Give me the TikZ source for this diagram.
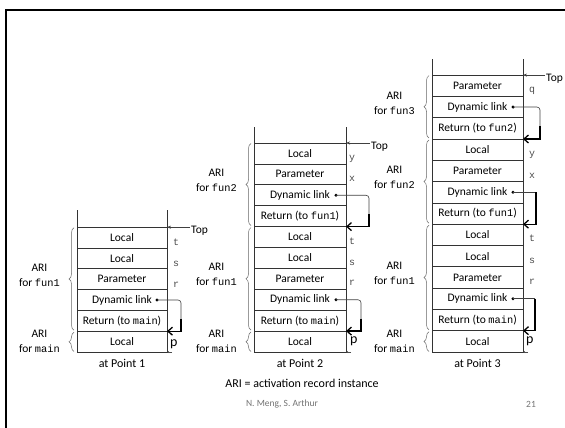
\documentclass[tikz,border=0pt]{standalone}
\usepackage{fontspec}
\setmainfont{Carlito}
\setmonofont{Liberation Mono}[Scale=0.9]
\usepackage{tikz}
\usetikzlibrary{positioning, arrows.meta, decorations.pathreplacing, calc}

\begin{document}
\begin{tikzpicture}[x=1pt, y=1pt,
  cell/.style={draw=black!80, line width=0.6pt, rectangle, inner sep=0pt, outer sep=0pt, font=\fontsize{11.5}{13}\selectfont},
  cellA/.style={cell, minimum width=90pt, minimum height=20.8pt},
  cellB/.style={cell, minimum width=92pt, minimum height=20.9pt},
  cellC/.style={cell, minimum width=91pt, minimum height=21.3pt},
  wall/.style={draw=black!80, line width=0.6pt},
  var/.style={font=\ttfamily\fontsize{11}{12}\selectfont, text=black!70, anchor=west, inner sep=0pt, text height=1.2ex, text depth=0.3ex},
  pmark/.style={font=\fontsize{14}{15}\selectfont, anchor=west, inner sep=0pt, text height=1.1ex, text depth=0.5ex},
  ari/.style={font=\fontsize{11.5}{15}\selectfont, align=center, anchor=east, inner sep=0pt},
  brc/.style={draw=black!60, line width=0.5pt, decorate, decoration={brace, amplitude=5pt}},
  toparr/.style={draw=black!75, line width=0.5pt, -{Stealth[length=4pt, width=3pt]}},
  toplbl/.style={font=\fontsize{11.5}{13}\selectfont, anchor=west, inner sep=1pt, yshift=-4pt},
  ptr/.style={draw=black!70, line width=0.5pt, -{Stealth[length=2pt, width=2pt]}},
  lnk/.style={draw=black!75, line width=0.6pt, rounded corners=3pt},
  lnkhd/.style={draw=black, line width=1.3pt, -{Straight Barb[length=4.5pt, width=8pt]}},
  ptlabel/.style={font=\fontsize{12}{14}\selectfont},
]
\useasboundingbox (0,0) rectangle (565,428);

% ── slide frame ──
\draw[line width=2pt] (6,0) -- (6,418) -- (565,418);

% ── Point 1 ──
\node[cellA] (a1) at (122,86.4) {Local};
\node[cellA, above=0pt of a1] (a2) {Return (to \texttt{main})};
\node[cellA, above=0pt of a2] (a3) {Dynamic link};
\node[cellA, above=0pt of a3] (a4) {Parameter};
\node[cellA, above=0pt of a4] (a5) {Local};
\node[cellA, above=0pt of a5] (a6) {Local};
\draw[wall] (a6.north west) -- ++(0,17);
\draw[wall] (a6.north east) -- ++(0,17);

\node[var] (va6) at ([xshift=6pt, yshift=-6pt]a6.east) {t};
\node[var] (va5) at ([xshift=6pt, yshift=-6pt]a5.east) {s};
\node[var] (va4) at ([xshift=6pt, yshift=-6pt]a4.east) {r};
\node[pmark] (pa) at ([xshift=3pt, yshift=-3pt]a1.east) {p};
\draw[ptr] ([xshift=5pt]a1.south east) -- (a1.south east);

\coordinate (ta) at ([xshift=23pt]a6.north east);
\draw[toparr] (ta) -- (a6.north east);
\node[toplbl] (tla) at (ta) {Top};

\coordinate (d1) at ([xshift=-10pt]a3.east);
\fill (d1) circle (1.7pt);
\draw[lnk] (d1) -- ([xshift=14pt]a3.east) -- ([xshift=14pt]a2.east);
\draw[lnkhd] ([xshift=14pt, yshift=2pt]a2.east) |- (a2.south east);

\draw[brc] ([xshift=-3pt, yshift=1pt]a2.south west) -- ([xshift=-3pt, yshift=-0.5pt]a6.north west);
\draw[brc] ([xshift=-3pt, yshift=0.5pt]a1.south west) -- ([xshift=-3pt, yshift=-1pt]a1.north west);
\node[ari] (la1) at ([xshift=-17pt, yshift=4pt]$(a2.south west)!0.5!(a6.north west)$) {ARI\\for \texttt{fun1}};
\node[ari] (la0) at ([xshift=-17pt]$(a1.south west)!0.5!(a1.north west)$) {ARI\\for \texttt{main}};
\node[ptlabel, below=4pt of a1] (pt1) {at Point 1};

% ── Point 2 ──
\node[cellB] (b1) at (300,86.45) {Local};
\node[cellB, above=0pt of b1] (b2) {Return (to \texttt{main})};
\node[cellB, above=0pt of b2] (b3) {Dynamic link};
\node[cellB, above=0pt of b3] (b4) {Parameter};
\node[cellB, above=0pt of b4] (b5) {Local};
\node[cellB, above=0pt of b5] (b6) {Local};
\node[cellB, above=0pt of b6] (b7) {Return (to \texttt{fun1})};
\node[cellB, above=0pt of b7] (b8) {Dynamic link};
\node[cellB, above=0pt of b8] (b9) {Parameter};
\node[cellB, above=0pt of b9] (b10) {Local};
\draw[wall] (b10.north west) -- ++(0,16);
\draw[wall] (b10.north east) -- ++(0,16);

\node[var] (vb10) at ([xshift=3pt, yshift=-5pt]b10.east) {y};
\node[var] (vb9) at ([xshift=3pt, yshift=-5pt]b9.east) {x};
\node[var] (vb6) at ([xshift=3pt, yshift=-5pt]b6.east) {t};
\node[var] (vb5) at ([xshift=3pt, yshift=-5pt]b5.east) {s};
\node[var] (vb4) at ([xshift=3pt, yshift=-5pt]b4.east) {r};
\node[pmark] (pb) at ([xshift=4pt, yshift=-1pt]b1.east) {p};
\draw[ptr] ([xshift=5pt]b1.south east) -- (b1.south east);

\coordinate (tb) at ([xshift=24pt]b10.north east);
\draw[toparr] (tb) -- (b10.north east);
\node[toplbl] (tlb) at (tb) {Top};

\coordinate (d2) at ([xshift=-10pt]b3.east);
\fill (d2) circle (1.7pt);
\draw[lnk] (d2) -- ([xshift=15pt]b3.east) -- ([xshift=15pt]b2.east);
\draw[lnkhd] ([xshift=15pt, yshift=2pt]b2.east) |- (b2.south east);

\coordinate (d3) at ([xshift=-10pt]b8.east);
\fill (d3) circle (1.7pt);
\draw[lnk] (d3) -- ([xshift=23pt]b8.east) -- ([xshift=23pt]b7.east);
\draw[lnkhd] ([xshift=23pt, yshift=2pt]b7.east) |- (b7.south east);

\draw[brc] ([xshift=-3pt, yshift=1pt]b7.south west) -- ([xshift=-3pt, yshift=-0.5pt]b10.north west);
\draw[brc] ([xshift=-3pt, yshift=1pt]b2.south west) -- ([xshift=-3pt, yshift=-1pt]b6.north west);
\draw[brc] ([xshift=-3pt, yshift=0.5pt]b1.south west) -- ([xshift=-3pt, yshift=-1pt]b1.north west);
\node[ari] (lb2) at ([xshift=-17pt, yshift=4pt]$(b7.south west)!0.5!(b10.north west)$) {ARI\\for \texttt{fun2}};
\node[ari] (lb1) at ([xshift=-17pt, yshift=4pt]$(b2.south west)!0.5!(b6.north west)$) {ARI\\for \texttt{fun1}};
\node[ari] (lb0) at ([xshift=-17pt]$(b1.south west)!0.5!(b1.north west)$) {ARI\\for \texttt{main}};
\node[ptlabel, below=4pt of b1] (pt2) {at Point 2};

% ── Point 3 ──
\node[cellC] (c1) at (477.5,86.65) {Local};
\node[cellC, above=0pt of c1] (c2) {Return (to \texttt{main})};
\node[cellC, above=0pt of c2] (c3) {Dynamic link};
\node[cellC, above=0pt of c3] (c4) {Parameter};
\node[cellC, above=0pt of c4] (c5) {Local};
\node[cellC, above=0pt of c5] (c6) {Local};
\node[cellC, above=0pt of c6] (c7) {Return (to \texttt{fun1})};
\node[cellC, above=0pt of c7] (c8) {Dynamic link};
\node[cellC, above=0pt of c8] (c9) {Parameter};
\node[cellC, above=0pt of c9] (c10) {Local};
\node[cellC, above=0pt of c10] (c11) {Return (to \texttt{fun2})};
\node[cellC, above=0pt of c11] (c12) {Dynamic link};
\node[cellC, above=0pt of c12] (c13) {Parameter};
\draw[wall] (c13.north west) -- ++(0,16);
\draw[wall] (c13.north east) -- ++(0,16);

\node[var] (vc13) at ([xshift=6pt, yshift=-5pt]c13.east) {q};
\node[var] (vc10) at ([xshift=6pt, yshift=-5pt]c10.east) {y};
\node[var] (vc9) at ([xshift=6pt, yshift=-5pt]c9.east) {x};
\node[var] (vc6) at ([xshift=6pt, yshift=-5pt]c6.east) {t};
\node[var] (vc5) at ([xshift=6pt, yshift=-5pt]c5.east) {s};
\node[var] (vc4) at ([xshift=6pt, yshift=-5pt]c4.east) {r};
\node[pmark] (pc) at ([xshift=3pt, yshift=-1pt]c1.east) {p};
\draw[ptr] ([xshift=5pt]c1.south east) -- (c1.south east);

\coordinate (tc) at ([xshift=22pt]c13.north east);
\draw[toparr] (tc) -- (c13.north east);
\node[toplbl] (tlc) at (tc) {Top};

\coordinate (d4) at ([xshift=-10pt]c3.east);
\fill (d4) circle (1.7pt);
\draw[lnk] (d4) -- ([xshift=12pt]c3.east);
\draw[lnkhd] ([xshift=12pt]c3.east) |- (c2.south east);

\coordinate (d5) at ([xshift=-10pt]c8.east);
\fill (d5) circle (1.7pt);
\draw[lnk] (d5) -- ([xshift=13pt]c8.east);
\draw[lnkhd] ([xshift=13pt]c8.east) |- (c7.south east);

\coordinate (d6) at ([xshift=-10pt]c12.east);
\fill (d6) circle (1.7pt);
\draw[lnk] (d6) -- ([xshift=17pt]c12.east) -- ([xshift=17pt]c11.east);
\draw[lnkhd] ([xshift=17pt, yshift=2pt]c11.east) |- (c11.south east);

\draw[brc] ([xshift=-3pt, yshift=1pt]c11.south west) -- ([xshift=-3pt, yshift=-0.5pt]c13.north west);
\draw[brc] ([xshift=-3pt, yshift=1pt]c7.south west) -- ([xshift=-3pt, yshift=-1pt]c10.north west);
\draw[brc] ([xshift=-3pt, yshift=1pt]c2.south west) -- ([xshift=-3pt, yshift=-1pt]c6.north west);
\draw[brc] ([xshift=-3pt, yshift=0.5pt]c1.south west) -- ([xshift=-3pt, yshift=-1pt]c1.north west);
\node[ari] (lc3) at ([xshift=-17pt, yshift=4pt]$(c11.south west)!0.5!(c13.north west)$) {ARI\\for \texttt{fun3}};
\node[ari] (lc2) at ([xshift=-17pt, yshift=4pt]$(c7.south west)!0.5!(c10.north west)$) {ARI\\for \texttt{fun2}};
\node[ari] (lc1) at ([xshift=-17pt, yshift=4pt]$(c2.south west)!0.5!(c6.north west)$) {ARI\\for \texttt{fun1}};
\node[ari] (lc0) at ([xshift=-17pt]$(c1.south west)!0.5!(c1.north west)$) {ARI\\for \texttt{main}};
\node[ptlabel, below=4pt of c1] (pt3) {at Point 3};

% ── legend and footer ──
\node[ptlabel] (legend) at (302,45) {ARI = activation record instance};
\node[font=\fontsize{9.5}{11}\selectfont, text=black!55] (authors) at (282,24) {N. Meng, S. Arthur};
\node[font=\fontsize{9.5}{11}\selectfont, text=black!55] (pageno) at (531,24) {21};
\end{tikzpicture}
\end{document}
